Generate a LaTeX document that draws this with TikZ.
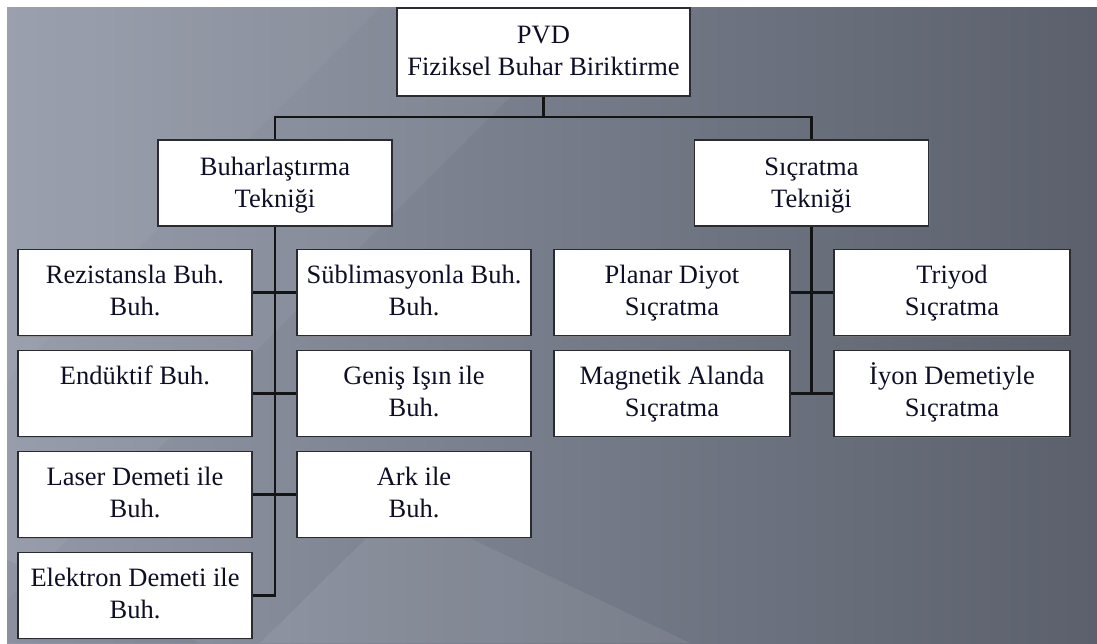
\documentclass[tikz,border=0pt]{standalone}
\usepackage{fontspec}
\setmainfont{Liberation Serif}
\usetikzlibrary{shadows}
\definecolor{bgL}{HTML}{9298A7}
\definecolor{bgR}{HTML}{5B606C}
\definecolor{boxline}{HTML}{2A2B30}
\definecolor{txt}{HTML}{0E0E26}
\newcommand{\bt}[4][34pt]{\parbox[c][#2][t]{#3}{\centering\rule{0pt}{#1}#4}}
\tikzset{
  box/.style={draw=boxline, fill=white, line width=1.6pt, inner sep=0pt,
    minimum width=234pt, minimum height=86pt, text=txt,
    font=\fontsize{26.5}{32}\selectfont,
    drop shadow={shadow xshift=1.2pt, shadow yshift=-1.2pt, opacity=0.45}},
  conn/.style={draw=black!92, line width=2.1pt}
}
\begin{document}
\begin{tikzpicture}[x=1pt, y=-1pt]
\useasboundingbox (0,0) rectangle (1097,643);
\fill[white] (0,0) rectangle (1097,643);
\shade[left color=bgL, right color=bgR] (7,7) rectangle (1097,643);
\fill[white, opacity=0.05] (7,7) -- (600,7) -- (7,600) -- cycle;
\fill[white, opacity=0.04] (7,7) -- (380,7) -- (7,380) -- cycle;
\fill[white, opacity=0.07] (400,505) -- (690,643) -- (260,643) -- cycle;
\fill[black, opacity=0.05] (7,560) -- (7,643) -- (200,643) -- cycle;

% top
\node[box, minimum width=293pt, minimum height=88pt] (pvd) at (543.5,52)
  {\bt[35pt]{88pt}{290pt}{PVD\\Fiziksel Buhar Biriktirme}};
\node[box] (buh) at (275,183) {\bt[35pt]{86pt}{230pt}{Buharlaştırma\\Tekniği}};
\node[box] (sic) at (811.5,183) {\bt[35pt]{86pt}{230pt}{Sıçratma\\Tekniği}};

% left branch
\node[box] (rez) at (135,292.5) {\bt{86pt}{230pt}{Rezistansla Buh.\\Buh.}};
\node[box] (end) at (135,393.5) {\bt{86pt}{230pt}{Endüktif Buh.}};
\node[box] (las) at (135,494.5) {\bt{86pt}{230pt}{Laser Demeti ile\\Buh.}};
\node[box] (ele) at (135,595.5) {\bt{86pt}{230pt}{Elektron Demeti ile\\Buh.}};
\node[box] (sub) at (414,292.5) {\bt{86pt}{230pt}{Süblimasyonla Buh.\\Buh.}};
\node[box] (gen) at (414,393.5) {\bt{86pt}{230pt}{Geniş Işın ile\\Buh.}};
\node[box] (ark) at (414,494.5) {\bt{86pt}{230pt}{Ark ile\\Buh.}};

% right branch
\node[box, minimum width=236pt] (pla) at (672,292.5) {\bt{86pt}{232pt}{Planar Diyot\\Sıçratma}};
\node[box, minimum width=236pt] (mag) at (672,393.5) {\bt{86pt}{232pt}{Magnetik Alanda\\Sıçratma}};
\node[box, minimum width=236pt] (tri) at (952,292.5) {\bt{86pt}{232pt}{Triyod\\Sıçratma}};
\node[box, minimum width=236pt] (iyo) at (952,393.5) {\bt{86pt}{232pt}{İyon Demetiyle\\Sıçratma}};

% connectors
\coordinate (bar) at (543.5,117);
\draw[conn] (pvd.south) -- (bar);
\draw[conn] (buh.north) |- (bar) -| (sic.north);
\coordinate (lbot) at (ele.east -| buh.south);
\draw[conn] (buh.south) -- (lbot) -- (ele.east);
\draw[conn] (rez.east) -- (sub.west);
\draw[conn] (end.east) -- (gen.west);
\draw[conn] (las.east) -- (ark.west);
\coordinate (rbot) at (mag.east -| sic.south);
\draw[conn] (sic.south) -- (rbot);
\draw[conn] (pla.east) -- (tri.west);
\draw[conn] (mag.east) -- (iyo.west);
\end{tikzpicture}
\end{document}
